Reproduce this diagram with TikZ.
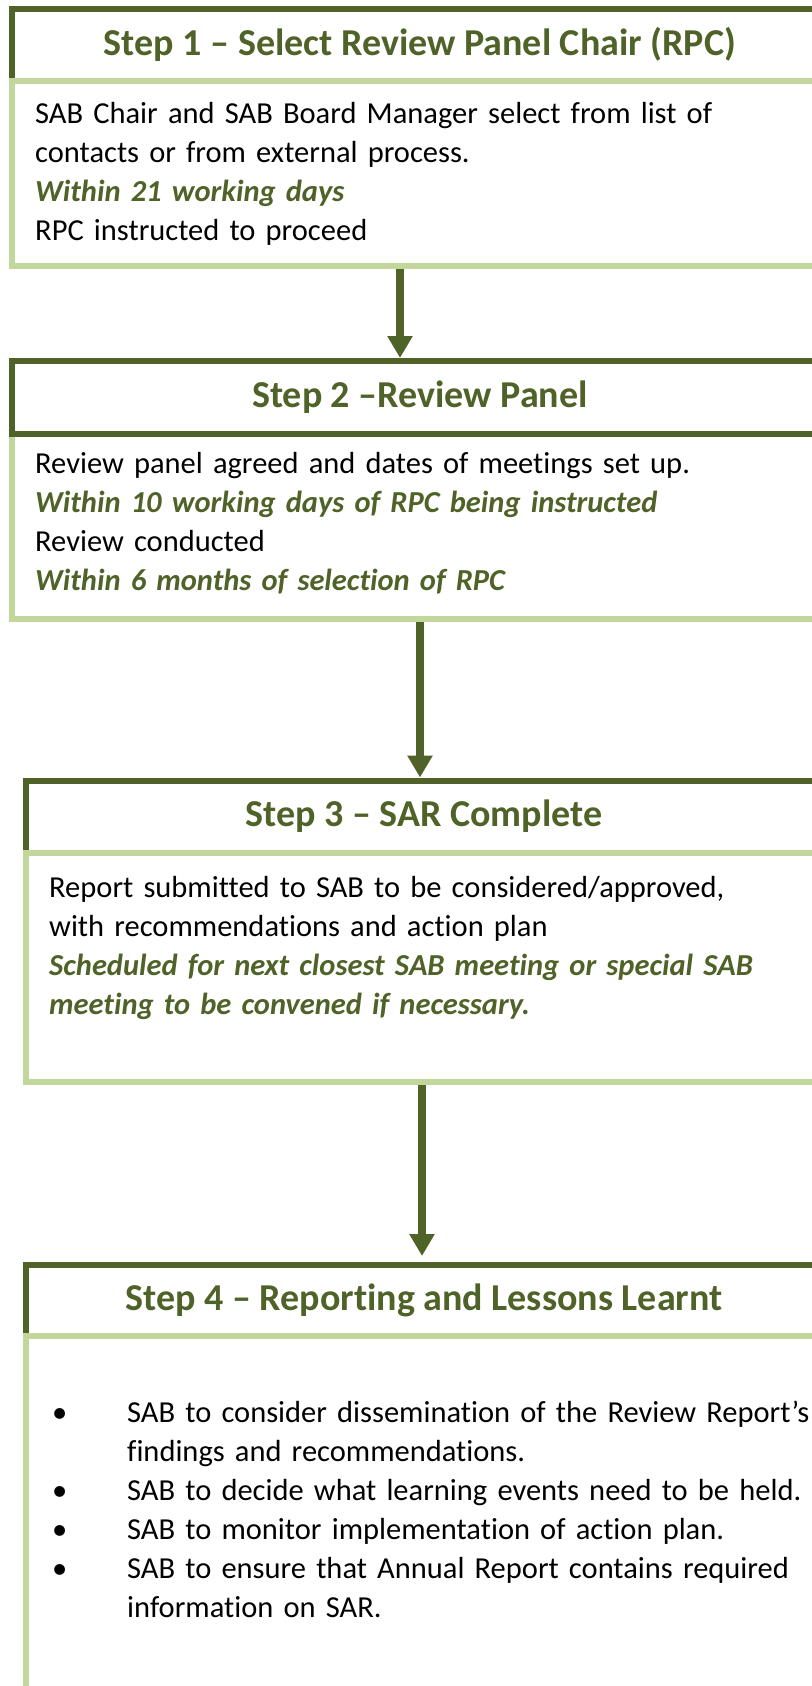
\documentclass[tikz,border=0pt]{standalone}
\usepackage{fontspec}
\setmainfont{Carlito}[Ligatures=NoCommon]
\usepackage{xcolor}
\usetikzlibrary{arrows.meta}
\definecolor{olivedark}{HTML}{4F6228}
\definecolor{olivelight}{HTML}{C3D69B}
\newcommand{\due}[1]{{\color{olivedark}\bfseries\itshape #1}}
\newcommand{\bitem}{\makebox[75pt][l]{\textbullet}}
\newcommand{\bcont}{\hspace*{75pt}}

\begin{document}
\begin{tikzpicture}[x=1pt,y=-1pt,
    head/.style = {draw=olivedark, line width=6pt, fill=white, anchor=north west,
      font=\fontsize{38}{46}\selectfont\bfseries, text=olivedark},
    panel/.style = {draw=olivelight, line width=6pt, fill=white, anchor=north west},
    txt/.style = {anchor=base west, inner sep=0pt, align=left, text width=800pt,
      font=\fontsize{30.5}{39}\selectfont},
    flow/.style = {draw=olivedark, line width=8pt, -{Triangle[width=24pt,length=22pt]}}]
  \useasboundingbox (0,0) rectangle (811,1686);

  % step 1
  \node[head, minimum width=816pt, minimum height=71.5pt] (h1) at (9,6)
    {Step 1 -- Select Review Panel Chair (RPC)};
  \node[panel, minimum width=816pt, minimum height=185.5pt] (b1) at (9,77.5) {};
  \node[txt] (t1) at (35,123) {SAB Chair and SAB Board Manager select from list of\\
    contacts or from external process.\\
    \due{Within 21 working days}\\
    RPC instructed to proceed};

  % step 2
  \node[panel, minimum width=816pt, minimum height=185.5pt] (b2) at (9,430.5) {};
  \node[head, minimum width=816pt, minimum height=72.5pt] (h2) at (9,358)
    {Step 2 --Review Panel};
  \node[txt] (t2) at (35,473) {Review panel agreed and dates of meetings set up.\\
    \due{Within 10 working days of RPC being instructed}\\
    Review conducted\\
    \due{Within 6 months of selection of RPC}};

  % step 3
  \node[head, minimum width=796pt, minimum height=72pt] (h3) at (23,777.5)
    {Step 3 -- SAR Complete};
  \node[panel, minimum width=796pt, minimum height=229.5pt] (b3) at (23,849.5) {};
  \node[txt] (t3) at (49,897) {Report submitted to SAB to be considered/approved,\\
    with recommendations and action plan\\
    \due{Scheduled for next closest SAB meeting or special SAB}\\
    \due{meeting to be convened if necessary.}};

  % step 4
  \node[head, minimum width=796pt, minimum height=71.5pt] (h4) at (23,1261.5)
    {Step 4 -- Reporting and Lessons Learnt};
  \node[panel, minimum width=796pt, minimum height=400pt] (b4) at (23,1333) {};
  \node[txt] (t4) at (52,1422) {%
    \bitem SAB to consider dissemination of the Review Report’s\\
    \bcont findings and recommendations.\\
    \bitem SAB to decide what learning events need to be held.\\
    \bitem SAB to monitor implementation of action plan.\\
    \bitem SAB to ensure that Annual Report contains required\\
    \bcont information on SAR.};

  % arrows
  \coordinate (a1) at (400,0);
  \coordinate (a2) at (420,0);
  \coordinate (a3) at (422,0);
  \draw[flow] (b1.south -| a1) -- (h2.north -| a1);
  \draw[flow] (b2.south -| a2) -- (h3.north -| a2);
  \draw[flow, shorten >=5.5pt] (b3.south -| a3) -- (h4.north -| a3);
\end{tikzpicture}
\end{document}
